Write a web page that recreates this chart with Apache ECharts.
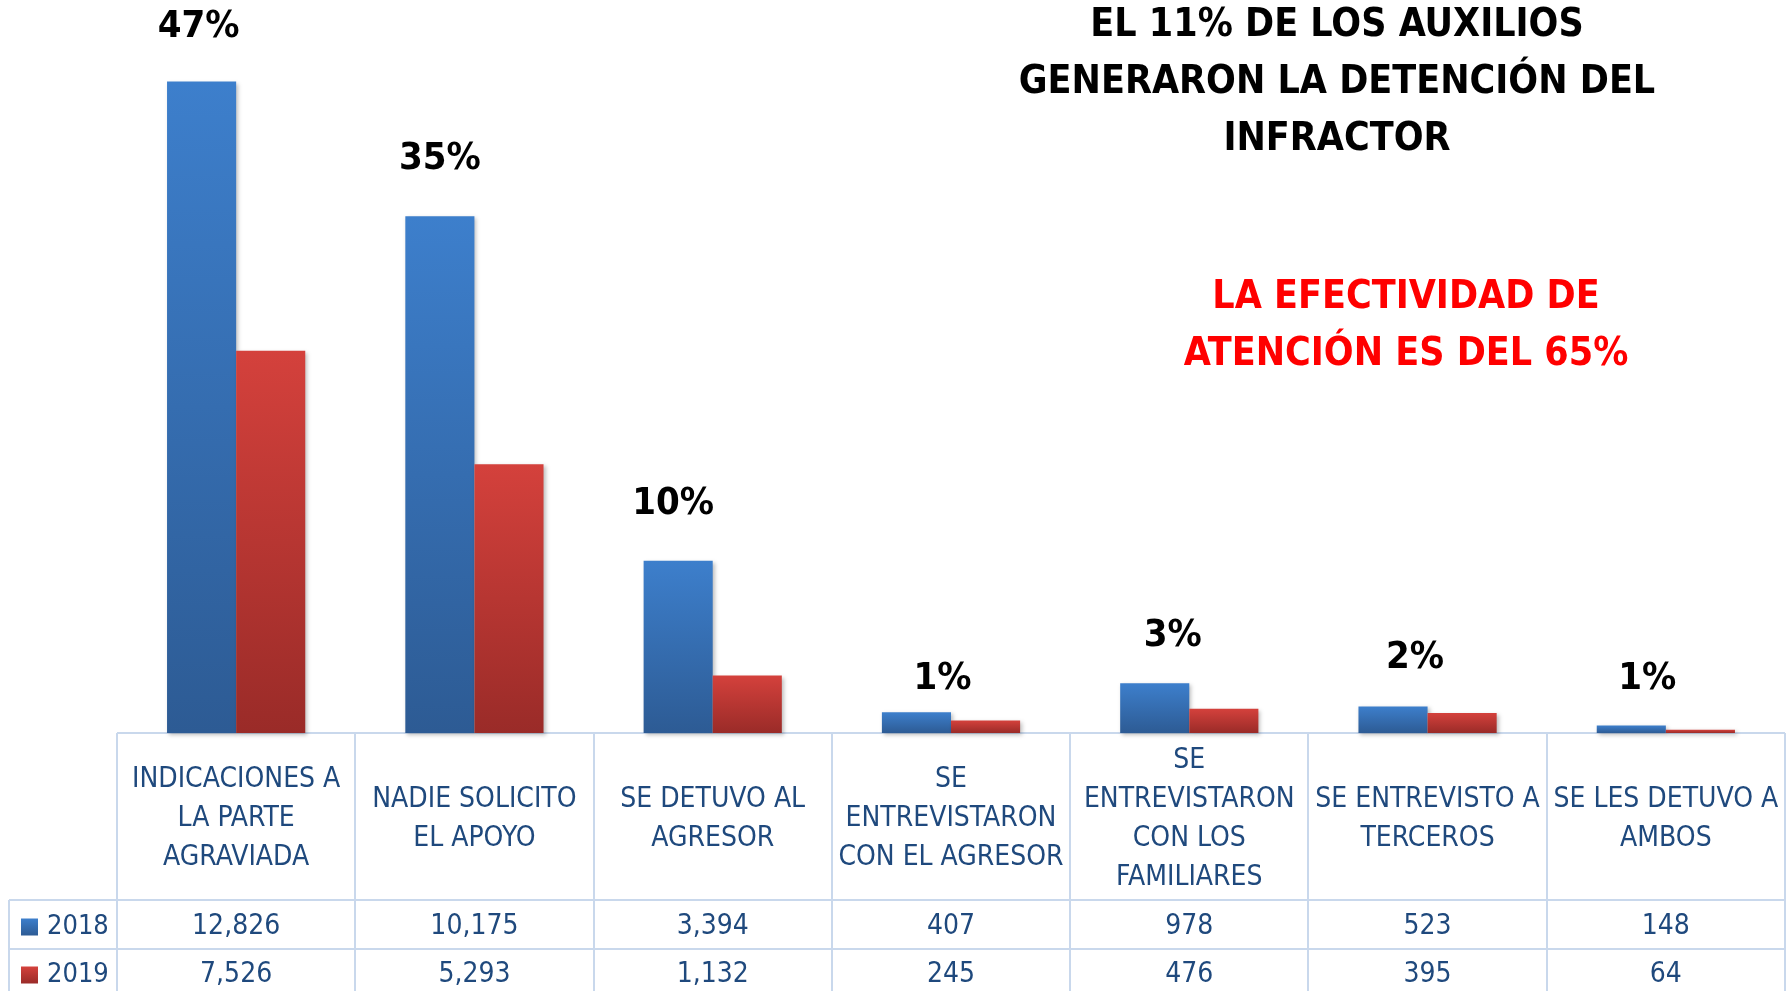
<!DOCTYPE html>
<html>
<head>
<meta charset="utf-8">
<script src="https://cdn.jsdelivr.net/npm/echarts@6/dist/echarts.min.js"></script>
<style>
  html, body { margin: 0; padding: 0; background: #fff; }
  #chart { width: 1792px; height: 991px; }
</style>
</head>
<body>
<div id="chart"></div>
<script>
// data
const categories = [
    'INDICACIONES A\nLA PARTE\nAGRAVIADA',
    'NADIE SOLICITO\nEL APOYO',
    'SE DETUVO AL\nAGRESOR',
    'SE\nENTREVISTARON\nCON EL AGRESOR',
    'SE\nENTREVISTARON\nCON LOS\nFAMILIARES',
    'SE ENTREVISTO A\nTERCEROS',
    'SE LES DETUVO A\nAMBOS'
];
const values2018 = [12826, 10175, 3394, 407, 978, 523, 148];
const values2019 = [7526, 5293, 1132, 245, 476, 395, 64];
const shares = ['47%', '35%', '10%', '1%', '3%', '2%', '1%'];

// label nudges (style only)
const shareNudge = [[-3, -35], [0, -38], [-5, -38], [26, -14], [18, -28], [22, -29], [16, -27]];

const FONT = '"Liberation Sans Narrow", "DejaVu Sans Condensed", "Liberation Sans", sans-serif';
const TXT = '#1F497D';
const RULE = '#C9D8EC';

// table frame
const tblLeft = 117, tblRight = 1785, tblTop = 733, headBottom = 900, row1Bottom = 949, outerLeft = 9;
const colW = (tblRight - tblLeft) / categories.length;

function tableLines() {
    const out = [];
    const line = (x1, y1, x2, y2) => out.push({
        type: 'line', silent: true,
        shape: { x1, y1, x2, y2 },
        style: { stroke: RULE, lineWidth: 2 }
    });
    line(tblLeft, tblTop, tblRight, tblTop);
    line(outerLeft, headBottom, tblRight, headBottom);
    line(outerLeft, row1Bottom, tblRight, row1Bottom);
    line(outerLeft, headBottom, outerLeft, 991);
    for (let i = 0; i <= categories.length; i++) {
        const x = Math.round(tblLeft + i * colW);
        line(x, tblTop, x, 991);
    }
    return out;
}

function grad(top, bottom) {
    return new echarts.graphic.LinearGradient(0, 0, 0, 1, [
        { offset: 0, color: top },
        { offset: 1, color: bottom }
    ]);
}

const fmt = v => v.toLocaleString('en-US');

const chart = echarts.init(document.getElementById('chart'));
chart.setOption({
    animation: false,
    textStyle: { fontFamily: FONT },
    title: [
        {
            text: 'EL 11% DE LOS AUXILIOS\nGENERARON LA DETENCIÓN DEL\nINFRACTOR',
            left: 1332, top: -8, textAlign: 'center',
            textStyle: { fontFamily: FONT, fontSize: 39, fontWeight: 'bold', color: '#000', lineHeight: 57 }
        },
        {
            text: 'LA EFECTIVIDAD DE\nATENCIÓN ES DEL 65%',
            left: 1401, top: 264, textAlign: 'center',
            textStyle: { fontFamily: FONT, fontSize: 39, fontWeight: 'bold', color: '#FF0000', lineHeight: 57 }
        }
    ],
    legend: {
        data: ['2018', '2019'],
        orient: 'vertical',
        left: 21, top: 912,
        padding: 0,
        icon: 'rect',
        itemWidth: 17, itemHeight: 17,
        itemGap: 18,
        textStyle: { fontFamily: FONT, fontSize: 27, color: TXT, lineHeight: 30, padding: [0, 0, 0, 4] }
    },
    grid: { left: tblLeft, right: 1792 - tblRight, top: 22, bottom: 991 - tblTop },
    xAxis: [
        {
            type: 'category', data: categories, position: 'bottom',
            axisLine: { show: false }, axisTick: { show: false },
            axisLabel: {
                interval: 0, margin: 86, verticalAlign: 'middle',
                fontFamily: FONT, fontSize: 28, lineHeight: 39, color: TXT, align: 'center'
            }
        },
        {
            type: 'category', data: categories, position: 'bottom',
            axisLine: { show: false }, axisTick: { show: false },
            axisLabel: {
                interval: 0, margin: 194, verticalAlign: 'middle',
                fontFamily: FONT, fontSize: 28, color: TXT,
                formatter: (v, i) => fmt(values2018[i])
            }
        },
        {
            type: 'category', data: categories, position: 'bottom',
            axisLine: { show: false }, axisTick: { show: false },
            axisLabel: {
                interval: 0, margin: 242, verticalAlign: 'middle',
                fontFamily: FONT, fontSize: 28, color: TXT,
                formatter: (v, i) => fmt(values2019[i])
            }
        }
    ],
    yAxis: { type: 'value', min: 0, max: 14000, show: false, splitLine: { show: false } },
    series: [
        {
            name: '2018', type: 'bar', xAxisIndex: 0,
            barGap: 0, barCategoryGap: '42%',
            itemStyle: {
                color: grad('#3D7FCC', '#2D5B94'),
                shadowBlur: 4, shadowColor: 'rgba(0,0,0,0.25)', shadowOffsetX: 2, shadowOffsetY: 2
            },
            data: values2018.map((v, i) => ({
                value: v,
                label: {
                    show: true, position: 'top', distance: 0,
                    offset: shareNudge[i],
                    formatter: shares[i],
                    fontFamily: FONT, fontSize: 38, fontWeight: 'bold', color: '#000'
                }
            }))
        },
        {
            name: '2019', type: 'bar', xAxisIndex: 0,
            itemStyle: {
                color: grad('#D4413C', '#9A2B28'),
                shadowBlur: 4, shadowColor: 'rgba(0,0,0,0.25)', shadowOffsetX: 2, shadowOffsetY: 2
            },
            data: values2019
        }
    ],
    graphic: tableLines()
});

window.addEventListener('resize', () => chart.resize());
</script>
</body>
</html>
